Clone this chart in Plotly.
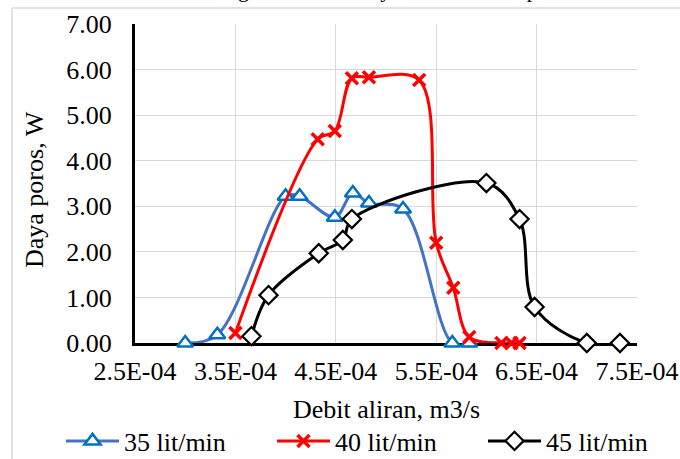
import plotly.graph_objects as go

# --- data ---
x35 = [3.00e-4, 3.32e-4, 4.00e-4, 4.14e-4, 4.49e-4, 4.67e-4, 4.83e-4, 5.17e-4, 5.66e-4, 5.83e-4]
y35 = [0.00, 0.18, 3.22, 3.22, 2.76, 3.29, 3.07, 2.94, 0.00, 0.00]

x40 = [3.50e-4, 4.32e-4, 4.49e-4, 4.66e-4, 4.83e-4, 5.33e-4, 5.50e-4, 5.67e-4, 5.83e-4, 6.15e-4, 6.25e-4, 6.33e-4]
y40 = [0.22, 4.47, 4.65, 5.81, 5.83, 5.77, 2.20, 1.21, 0.13, 0.00, 0.00, 0.00]

x45 = [3.66e-4, 3.83e-4, 4.33e-4, 4.57e-4, 4.66e-4, 6.00e-4, 6.33e-4, 6.48e-4, 7.00e-4, 7.33e-4]
y45 = [0.15, 1.05, 1.97, 2.26, 2.72, 3.51, 2.72, 0.79, 0.00, 0.00]

series_names = ["35 lit/min", "40 lit/min", "45 lit/min"]
x_ticks = [2.5e-4, 3.5e-4, 4.5e-4, 5.5e-4, 6.5e-4, 7.5e-4]
x_tick_labels = ["2.5E-04", "3.5E-04", "4.5E-04", "5.5E-04", "6.5E-04", "7.5E-04"]
y_ticks = [0, 1, 2, 3, 4, 5, 6, 7]
y_tick_labels = ["0.00", "1.00", "2.00", "3.00", "4.00", "5.00", "6.00", "7.00"]
x_title = "Debit aliran, m3/s"
y_title = "Daya poros, W"
chart_title = "Hubungan Debit vs Daya Poros terhadap Debit"

FONT = "Times New Roman"

fig = go.Figure()
fig.add_trace(go.Scatter(
    x=x35, y=y35, name=series_names[0], mode="lines+markers", legend="legend",
    line=dict(color="#4472C4", width=3, shape="spline", smoothing=1),
    marker=dict(symbol="triangle-up", size=14, color="white",
                line=dict(color="#0070C0", width=2.5)),
    cliponaxis=False))
fig.add_trace(go.Scatter(
    x=x40, y=y40, name=series_names[1], mode="lines+markers", legend="legend2",
    line=dict(color="#FF0000", width=3, shape="spline", smoothing=1),
    marker=dict(symbol="x-thin-open", size=12, color="#FF0000",
                line=dict(color="#FF0000", width=3.5)),
    cliponaxis=False))
fig.add_trace(go.Scatter(
    x=x45, y=y45, name=series_names[2], mode="lines+markers", legend="legend3",
    line=dict(color="#000000", width=3, shape="spline", smoothing=1),
    marker=dict(symbol="diamond", size=14, color="white",
                line=dict(color="#000000", width=2.2)),
    cliponaxis=False))

def leg(xpx):
    return dict(orientation="h", xref="container", yref="container",
                x=xpx / 680, y=(459 - 441) / 459, xanchor="left", yanchor="middle",
                font=dict(size=26, family=FONT), itemwidth=53,
                bgcolor="rgba(0,0,0,0)")

fig.update_layout(
    width=680, height=459,
    margin=dict(l=135, r=43, t=24, b=116, autoexpand=False),
    paper_bgcolor="white", plot_bgcolor="white",
    font=dict(family=FONT, size=26, color="black"),
    showlegend=True,
    legend=leg(61), legend2=leg(272), legend3=leg(483),
    xaxis=dict(range=[2.5e-4, 7.5e-4], tickvals=x_ticks, ticktext=x_tick_labels,
               showgrid=True, gridcolor="#d9d9d9", gridwidth=1,
               showline=True, linecolor="black", linewidth=3,
               zeroline=False, ticks="", ticklabelstandoff=3,
               layer="below traces"),
    yaxis=dict(range=[0, 7], tickvals=y_ticks, ticktext=y_tick_labels,
               showgrid=True, gridcolor="#d9d9d9", gridwidth=1,
               showline=True, linecolor="black", linewidth=3,
               zeroline=False, ticks="", ticklabelstandoff=15,
               layer="below traces"),
)

# axis titles
fig.add_annotation(text=x_title, xref="paper", yref="paper",
                   x=0.5, y=(343 - 409) / 319, xanchor="center", yanchor="middle",
                   showarrow=False, font=dict(size=26, family=FONT))
fig.add_annotation(text=y_title, xref="paper", yref="paper",
                   x=(34 - 135) / 502, y=(343 - 190) / 319, xanchor="center",
                   yanchor="middle", textangle=-90,
                   showarrow=False, font=dict(size=26, family=FONT))

# chart-area border (light gray)
fig.add_shape(type="line", xref="paper", yref="paper",
              x0=-0.245, x1=-0.245, y0=-1.0, y1=1.05,
              line=dict(color="#d9d9d9", width=1.5), layer="below")
fig.add_shape(type="line", xref="paper", yref="paper",
              x0=-0.245, x1=1.2, y0=1.05, y1=1.05,
              line=dict(color="#d9d9d9", width=1.5), layer="below")

# chart title, mostly cut off at the top edge
fig.add_annotation(text=chart_title,
                   xref="paper", yref="paper",
                   x=(176 - 135) / 502, y=(343 - 4) / 319,
                   xanchor="left", yanchor="bottom",
                   showarrow=False, font=dict(size=22, family=FONT))

fig.write_html("out.html")
